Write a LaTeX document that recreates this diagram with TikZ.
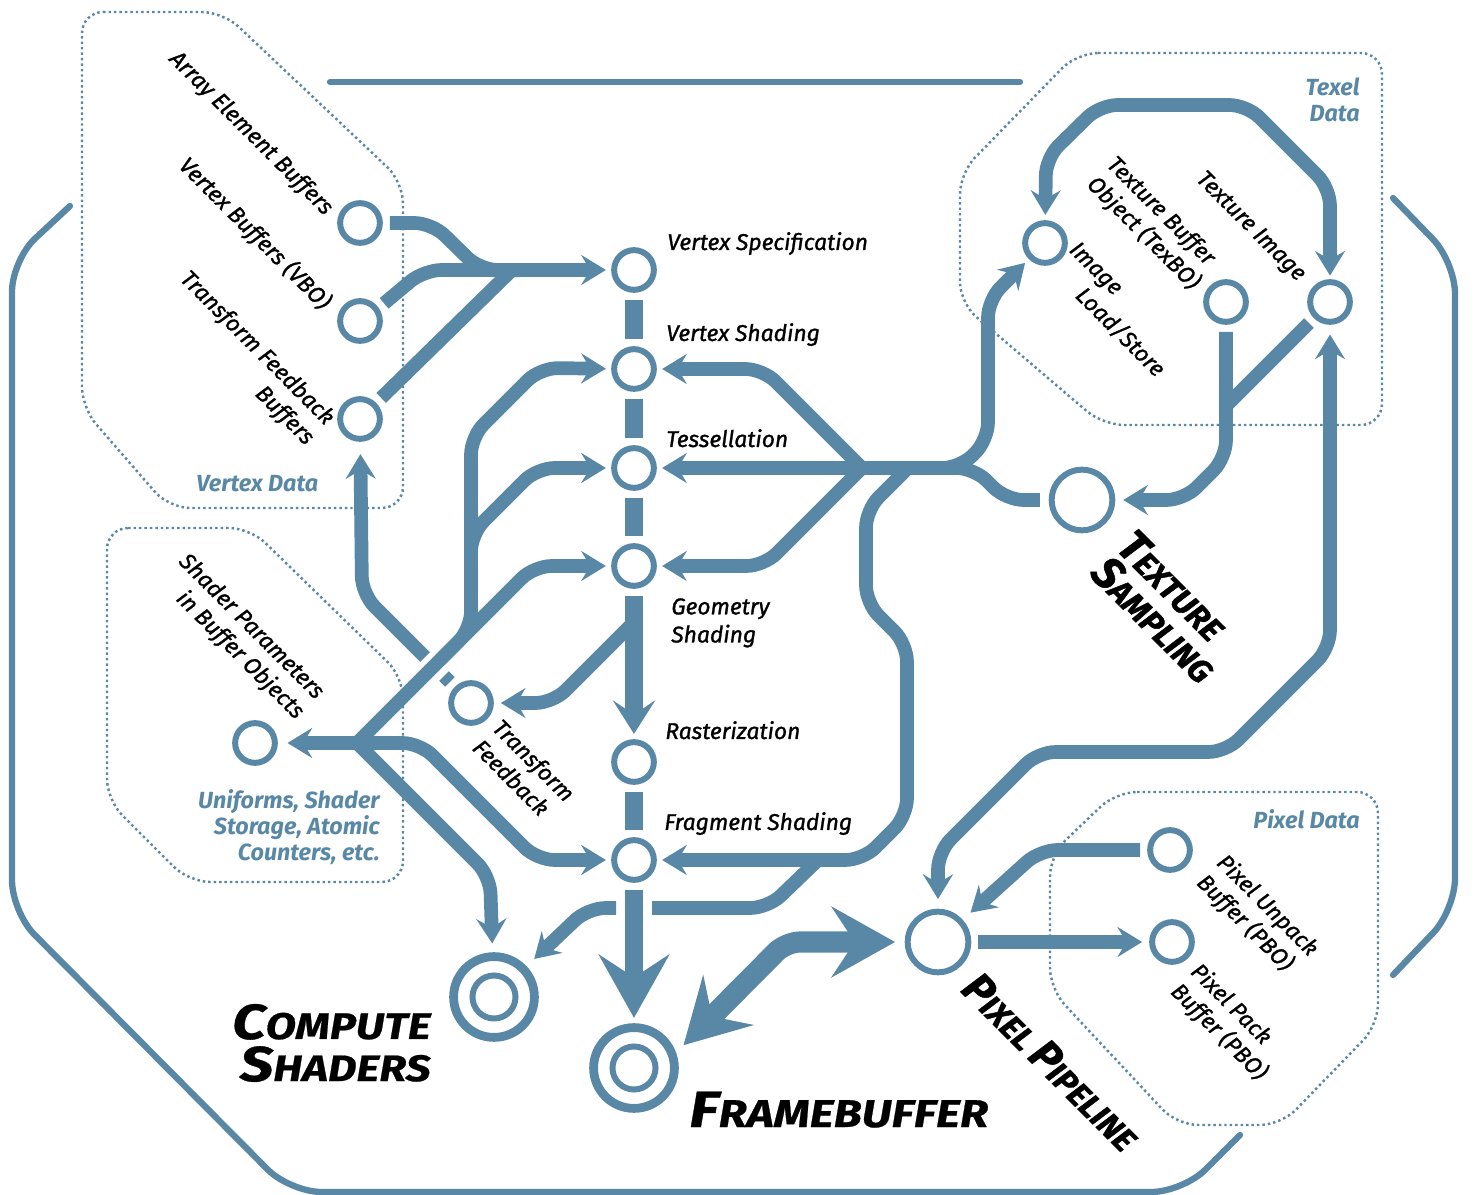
\documentclass[tikz,border=0pt]{standalone}
\usepackage{fontspec}
\setmainfont{Fira Sans}
\newfontfamily\lblfont{Fira Sans}[FakeBold=1.2]
\newfontfamily\widefont{Fira Sans}[FakeStretch=1.2, FakeBold=0.6]
\usetikzlibrary{arrows.meta}
\definecolor{gl}{RGB}{88,136,166}
\newcommand{\capsc}[3]{{\fontsize{#1}{24}\selectfont #2}#3}

\begin{document}
\begin{tikzpicture}[x=0.02cm, y=-0.02cm,
  stn/.style={circle, draw=gl, fill=white, line width=3.4pt, minimum size=22.6pt, inner sep=0pt},
  hub/.style={stn, minimum size=34.5pt},
  term/.style={circle, draw=gl, fill=white, line width=5pt, minimum size=46pt, inner sep=0pt},
  core/.style={circle, draw=gl, line width=3.4pt, minimum size=24.5pt, inner sep=0pt},
  line/.style={draw=gl, line width=7.8pt, rounded corners=10pt},
  trunk/.style={draw=gl, line width=10pt},
  tip/.style={-{Stealth[length=14pt, width=17pt, inset=5pt]}, shorten >=3pt},
  tips/.style={{Stealth[length=14pt, width=17pt, inset=5pt]}-{Stealth[length=14pt, width=17pt, inset=5pt]}},
  fat/.style={-{Stealth[length=36pt, width=40pt, inset=13pt]}},
  zone/.style={draw=gl, line width=1.4pt, dash pattern=on 1.4pt off 1.7pt, rounded corners=12pt},
  frame/.style={draw=gl, line width=3.6pt, line cap=round, rounded corners=18pt},
  lbl/.style={font=\lblfont\itshape\fontsize{13}{16}\selectfont, inner sep=0pt},
  rlbl/.style={lbl, rotate=-45},
  zlbl/.style={font=\bfseries\itshape\fontsize{13.3}{15}\selectfont, text=gl, inner sep=0pt},
  big/.style={font=\widefont\bfseries\itshape\fontsize{21}{24}\selectfont, inner sep=0pt},
  tilt/.style={font=\lblfont\bfseries\itshape\fontsize{18.5}{21}\selectfont, inner sep=0pt, rotate=-45}
]
\useasboundingbox (0,0) rectangle (1475,1195);

% frame and data zones
\draw[frame] (330,82) -- (1020,82);
\draw[frame] (70,206) -- (12,260) -- (12,912) -- (290,1192) -- (1183,1192) -- (1240,1135);
\draw[frame] (1393,198) -- (1455,262) -- (1455,910) -- (1393,975);
\draw[zone] (82,12) -- (223,12) -- (403,182) -- (403,508) -- (169,508) -- (82,408) -- cycle;
\draw[zone] (107,528) -- (250,528) -- (403,677) -- (403,882) -- (189,882) -- (107,800) -- cycle;
\draw[zone] (1077,53) -- (1382,53) -- (1382,425) -- (1103,425) -- (960,303) -- (960,173) -- cycle;
\draw[zone] (1116,792) -- (1378,792) -- (1378,1025) -- (1281,1125) -- (1177,1125) -- (1050,989) -- (1050,855) -- cycle;

% stations
\node[stn] (aeb) at (360,223) {};
\node[stn] (vbo) at (360,321) {};
\node[stn] (tfb) at (360,419) {};
\node[stn] (vspec) at (634,270) {};
\node[stn] (vshade) at (634,369) {};
\node[stn] (tess) at (634,468) {};
\node[stn] (geom) at (634,566) {};
\node[stn] (raster) at (634,762) {};
\node[stn] (frag) at (634,860) {};
\node[stn] (tf) at (471,703) {};
\node[stn] (uni) at (255,743) {};
\node[stn] (ils) at (1045,243) {};
\node[stn] (texbo) at (1226,302) {};
\node[stn] (teximg) at (1330,302) {};
\node[hub] (tsamp) at (1082,500) {};
\node[hub] (pp) at (938,942) {};
\node[stn] (unpack) at (1170,850) {};
\node[stn] (pack) at (1172,942) {};
\node[term] (fb) at (634,1068) {};
\node[core] (fbcore) at (fb) {};
\node[term] (cs) at (494,997) {};
\node[core] (cscore) at (cs) {};
\coordinate (fork) at (357,743);

% vertex data into the pipeline
\draw[line, tip, shorten <=4pt] (aeb) -- (432,223) -- (480,270) -- (vspec);
\draw[line, shorten <=4pt] (vbo.35) -- (424,270) -- (500,270);
\draw[line, shorten <=4pt] (tfb.45) -- (512,270);

% transform feedback back to its buffers
\draw[line, shorten <=4pt] (tf) -- (444,676);
\draw[line, tip, shorten >=7pt] (425,657) -- (362,594) -- (tfb);

% the fork on the left
\draw[line, tip] (fork) -- (534,566) -- (geom);
\draw[line, tip] (440,660) -- (471,629) -- (471,437) -- (540,368) -- (vshade);
\draw[line, tip] (471,560) -- (471,534) -- (537,468) -- (tess);
\draw[line, tip, shorten >=5.5pt] (fork) -- (uni);
\draw[line, tip] (fork) -- (420,743) -- (537,860) -- (frag);
\draw[line, tip, shorten >=5pt] (fork) -- (490,876) -- (cs);

% the pipeline column
\draw[trunk, shorten <=4pt, shorten >=4pt] (vspec) -- (vshade);
\draw[trunk, shorten <=4pt, shorten >=4pt] (vshade) -- (tess);
\draw[trunk, shorten <=4pt, shorten >=4pt] (tess) -- (geom);
\draw[trunk, -{Stealth[length=19pt, width=24pt, inset=8pt]}, shorten <=4pt, shorten >=3pt] (geom) -- (raster);
\draw[trunk, shorten <=4pt, shorten >=4pt] (raster) -- (frag);
\draw[line, tip, shorten >=4pt] (634,622) -- (553,703) -- (tf);

% texture fan on the right
\draw[line, tip, shorten <=5pt] (tsamp) -- (1006,500) -- (974,468) -- (tess);
\draw[line, tip] (862,468) -- (763,369) -- (vshade);
\draw[line, tip] (862,468) -- (764,566) -- (geom);
\draw[line, tip] (945,468) -- (960,468) -- (988,440) -- (988,300) -- (ils);
\draw[line, tip] (908,468) -- (866,510) -- (866,603) -- (907,644) -- (907,816) -- (863,860) -- (frag);

% fragment output to compute shaders, under the column
\draw[line] (818,860) -- (768,908) -- (652,908);
\draw[line, tip, shorten >=6pt] (616,908) -- (588,908) -- (cs);
\draw[trunk, fat, shorten <=4pt, shorten >=3pt] (frag) -- (fb);

% texel data
\draw[line, tips, shorten <=3pt, shorten >=2pt] (ils) -- (1046,158) -- (1100,105) -- (1247,105) -- (1330,188) -- (teximg);
\draw[line, tip, shorten <=4pt, shorten >=4.5pt] (texbo) -- (1226,458) -- (1184,500) -- (tsamp);
\draw[line, shorten <=4pt] (teximg) -- (1226,406);
\draw[line, tips, shorten <=5.5pt, shorten >=5.5pt] (pp) -- (938,852) -- (1038,752) -- (1226,752) -- (1330,648) -- (teximg);

% pixel data
\draw[line, tip, shorten <=4pt, shorten >=6pt] (unpack) -- (1040,850) -- (pp);
\draw[line, tip, shorten <=4pt, shorten >=4pt] (pp) -- (pack);
\draw[draw=gl, line width=12pt, rounded corners=8pt, {Stealth[length=36pt, width=40pt, inset=13pt]}-{Stealth[length=36pt, width=40pt, inset=13pt]}, shorten <=6pt, shorten >=5.5pt] (fb.20) -- (786,942) -- (pp);

% stage labels
\node[lbl, anchor=base west] (lvspec) at (667,250) {Vertex Specification};
\node[lbl, anchor=base west] (lvshade) at (666,341) {Vertex Shading};
\node[lbl, anchor=base west] (ltess) at (666,447) {Tessellation};
\node[lbl, anchor=north west, align=left] (lgeom) at (671,598) {Geometry\\Shading};
\node[lbl, anchor=base west] (lraster) at (665,739) {Rasterization};
\node[lbl, anchor=base west] (lfrag) at (664,830) {Fragment Shading};

% buffer labels
\node[rlbl, anchor=east] (laeb) at (329,212) {Array Element Buffers};
\node[rlbl, anchor=east] (lvbo) at (327,306) {Vertex Buffers (VBO)};
\node[rlbl, anchor=east, align=right] (ltfb) at (320,432) {Transform Feedback\\Buffers};
\node[rlbl, anchor=east, align=right] (luni) at (310,706) {Shader Parameters\\in Buffer Objects};
\node[rlbl, anchor=west, align=left] (ltf) at (487,733) {Transform\\Feedback};
\node[rlbl, anchor=west] (lteximg) at (1199,176) {Texture Image};
\node[rlbl, anchor=west, align=left] (ltexbo) at (1100,171) {Texture Buffer\\Object (TexBO)};
\node[rlbl, anchor=west, align=left] (lils) at (1063,256) {Image\\\hspace*{1.6em}Load/Store};
\node[rlbl, anchor=west, align=left] (lunpack) at (1210,869) {Pixel Unpack\\Buffer (PBO)};
\node[rlbl, anchor=west, align=left] (lpack) at (1184,978) {Pixel Pack\\Buffer (PBO)};

% zone labels
\node[zlbl, anchor=base west] (lvdata) at (196,492) {Vertex Data};
\node[zlbl, anchor=north east, align=right] (ltdata) at (1360,77) {Texel\\Data};
\node[zlbl, anchor=base east] (lpdata) at (1360,829) {Pixel Data};
\node[zlbl, anchor=north east, align=right] (ludata) at (380,789) {Uniforms, Shader\\Storage, Atomic\\Counters, etc.};

% terminal labels
\node[big, anchor=east, align=right] (lcs) at (431,1043) {\capsc{28}{C}{OMPUTE}\\\capsc{28}{S}{HADERS}};
\node[big, anchor=base west, font=\widefont\bfseries\itshape\fontsize{22}{24}\selectfont] (lfb) at (689,1127) {\capsc{29}{F}{RAMEBUFFER}};
\node[tilt, anchor=west, align=left] (lts) at (1112,551) {\capsc{25.5}{T}{EXTURE}\\\capsc{25.5}{S}{AMPLING}};
\node[tilt, anchor=west] (lpp) at (970,980) {\capsc{25}{P}{IXEL} \capsc{25}{P}{IPELINE}};
\end{tikzpicture}
\end{document}
